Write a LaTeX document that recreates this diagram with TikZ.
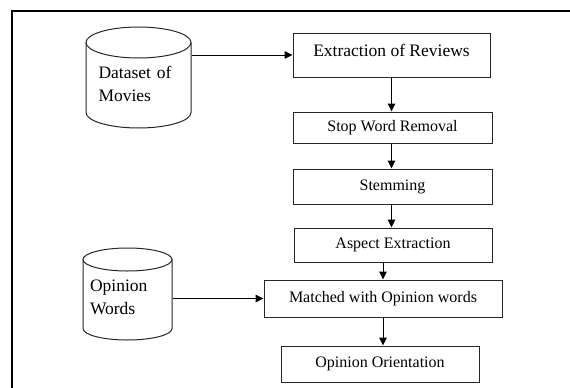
\documentclass[tikz,border=0pt]{standalone}
\usepackage{fontspec}
\setmainfont{Liberation Serif}
\usetikzlibrary{arrows.meta}
\begin{document}
\begin{tikzpicture}[x=1pt,y=-1pt,
  line width=1pt,
  stepbox/.style={draw=black!85, rectangle, inner sep=0pt, font=\fontsize{16}{19}\selectfont},
  dbtext/.style={rectangle, align=left, inner ysep=0pt, font=\fontsize{17.5}{23}\selectfont},
  cyl/.style={draw=black!85},
  arr/.style={-{Triangle[length=8pt,width=7.5pt]}, black}
]
\useasboundingbox (0,0) rectangle (570,388);
% frame
\draw[line width=1.3pt] (570,11) -- (12,11) -- (12,388);

% cylinders
\draw[cyl] (138.5,42.5) ellipse [x radius=52.5pt, y radius=15.5pt];
\draw[cyl] (86,42.5) -- (86,112.5) arc [start angle=180, end angle=360, x radius=52.5pt, y radius=15.5pt] -- (191,42.5);
\node[dbtext, text width=80pt, inner xsep=12.5pt] (ds) at (138.5,84) {Dataset of\\Movies};

\draw[cyl] (127.5,259.5) ellipse [x radius=44.5pt, y radius=11.5pt];
\draw[cyl] (83,259.5) -- (83,328.5) arc [start angle=180, end angle=360, x radius=44.5pt, y radius=11.5pt] -- (172,259.5);
\node[dbtext, text width=75pt, inner xsep=7pt] (ow) at (127.5,297) {Opinion\\Words};

% process boxes
\node[stepbox, minimum width=197pt, minimum height=44pt, text depth=9pt, font=\fontsize{17.5}{21}\selectfont] (ext) at (391.5,55) {Extraction of Reviews};
\node[stepbox, minimum width=199pt, minimum height=31pt] (swr) at (392.5,127.5) {Stop Word Removal};
\node[stepbox, minimum width=199pt, minimum height=35pt] (stem) at (392.5,186.5) {Stemming};
\node[stepbox, minimum width=198pt, minimum height=34pt] (asp) at (393,245) {Aspect Extraction};
\node[stepbox, minimum width=238pt, minimum height=37pt] (match) at (383,298.5) {Matched with Opinion words};
\node[stepbox, minimum width=198pt, minimum height=36pt] (oo) at (380,364) {Opinion Orientation};

% connectors
\draw[arr] (ds.east |- ext.west) -- (ext.west);
\draw[arr] (ext.south) -- (ext.south |- swr.north);
\draw[arr] (swr.south -| ext.south) -- (ext.south |- stem.north);
\draw[arr] (stem.south -| ext.south) -- (ext.south |- asp.north);
\draw[arr] (asp.south -| match.north) -- (match.north);
\draw[arr] (match.south) -- (match.south |- oo.north);
\draw[arr] (ow.east |- match.west) -- (match.west);
\end{tikzpicture}
\end{document}
